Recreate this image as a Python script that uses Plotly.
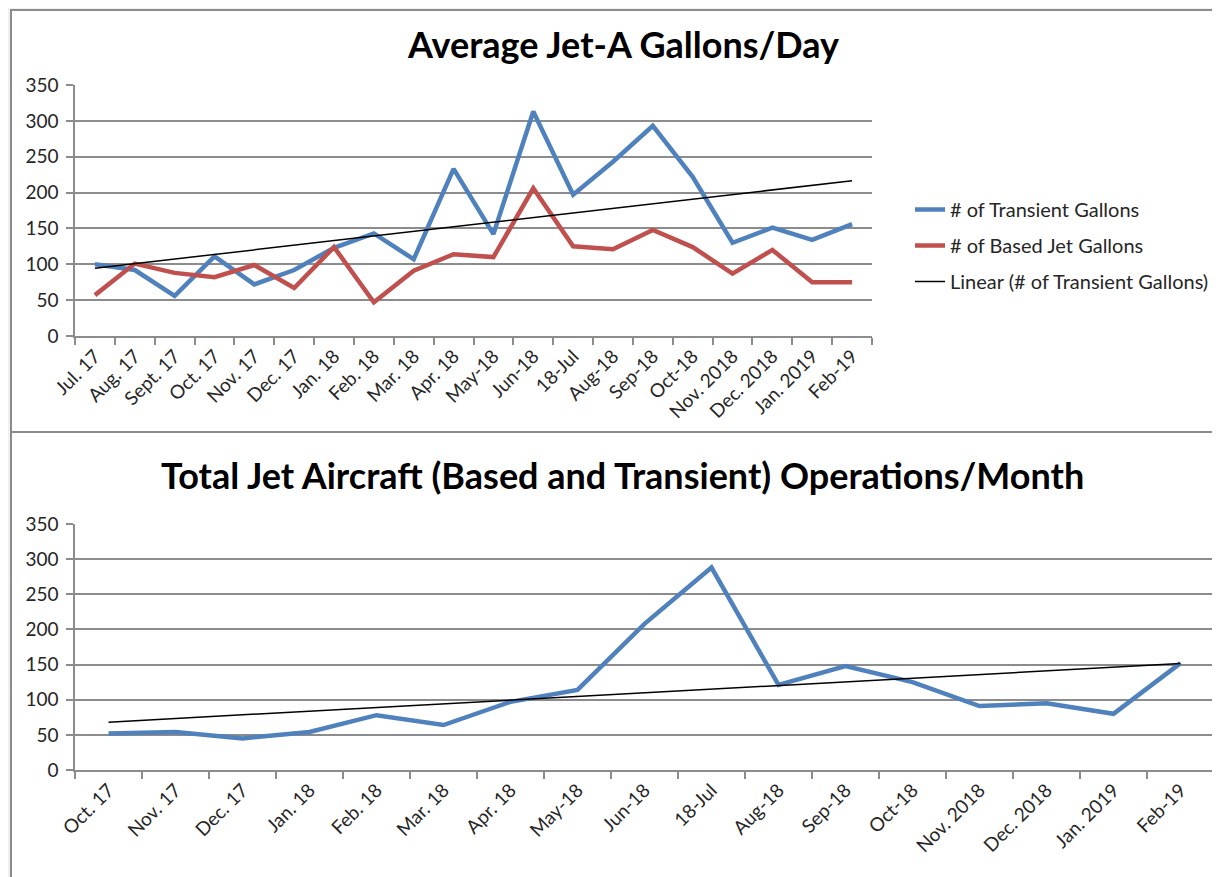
import numpy as np
import plotly.graph_objects as go

# ---- Data: top chart ----
top_months = ["Jul. 17", "Aug. 17", "Sept. 17", "Oct. 17", "Nov. 17", "Dec. 17", "Jan. 18",
              "Feb. 18", "Mar. 18", "Apr. 18", "May-18", "Jun-18", "18-Jul", "Aug-18",
              "Sep-18", "Oct-18", "Nov. 2018", "Dec. 2018", "Jan. 2019", "Feb-19"]
transient_gallons = [100, 92, 56, 111, 72, 92, 123, 143, 107, 233, 142, 313, 197, 243,
                     293, 222, 130, 151, 134, 156]
based_jet_gallons = [57, 101, 88, 82, 99, 67, 124, 47, 91, 114, 110, 206, 125, 121,
                     148, 124, 87, 120, 75, 75]

# ---- Data: bottom chart ----
bottom_months = ["Oct. 17", "Nov. 17", "Dec. 17", "Jan. 18", "Feb. 18", "Mar. 18", "Apr. 18",
                 "May-18", "Jun-18", "18-Jul", "Aug-18", "Sep-18", "Oct-18", "Nov. 2018",
                 "Dec. 2018", "Jan. 2019", "Feb-19"]
jet_operations = [52, 54, 45, 54, 78, 64, 97, 114, 208, 288, 121, 148, 125, 91, 95, 80, 152]

y_ticks = [0, 50, 100, 150, 200, 250, 300, 350]

BLUE = "#4F81BD"
RED = "#C0504D"
GRID = "#8C8C8C"
FONT = "Lato"
TXT = "#262626"

# linear trendlines (least squares, as Excel does)
xi = np.arange(len(transient_gallons))
a, b = np.polyfit(xi, transient_gallons, 1)
trend_top = a * xi + b
xj = np.arange(len(jet_operations))
c, d = np.polyfit(xj, jet_operations, 1)
trend_bot = c * xj + d

W, H = 1220, 877
OFF = 8  # page body margin that shifts the figure on screen

fig = go.Figure()
fig.add_trace(go.Scatter(x=top_months, y=transient_gallons, mode="lines",
                         name="# of Transient Gallons", line=dict(color=BLUE, width=4.5),
                         xaxis="x", yaxis="y", legendgroup="a"))
fig.add_trace(go.Scatter(x=top_months, y=based_jet_gallons, mode="lines",
                         name="# of Based Jet Gallons", line=dict(color=RED, width=4.5),
                         xaxis="x", yaxis="y", legendgroup="b"))
fig.add_trace(go.Scatter(x=top_months, y=trend_top, mode="lines",
                         name="Linear (# of Transient Gallons)", line=dict(color="black", width=1.5),
                         xaxis="x", yaxis="y", legendgroup="c"))
fig.add_trace(go.Scatter(x=bottom_months, y=jet_operations, mode="lines",
                         name="Operations", line=dict(color=BLUE, width=4.5),
                         xaxis="x2", yaxis="y2", showlegend=False))
fig.add_trace(go.Scatter(x=bottom_months, y=trend_bot, mode="lines",
                         name="Linear (Operations)", line=dict(color="black", width=1.5),
                         xaxis="x2", yaxis="y2", showlegend=False))


def px_x(p):
    return (p - OFF) / W


def px_y(p):
    return 1 - (p - OFF) / H


axis_common = dict(showline=True, linecolor=GRID, linewidth=1.5, ticks="outside",
                   ticklen=7, tickcolor=GRID, tickwidth=1.5, automargin=False,
                   tickfont=dict(family=FONT, size=19, color=TXT), zeroline=False)

fig.update_layout(
    width=W, height=H,
    margin=dict(l=0, r=0, t=0, b=0, pad=0, autoexpand=False),
    paper_bgcolor="#F0F0F0",
    plot_bgcolor="white",
    font=dict(family=FONT, color=TXT),
    xaxis=dict(domain=[px_x(75), px_x(872)], anchor="y", type="category",
               tickson="boundaries", tickangle=-45, showgrid=False,
               range=[-0.5, len(top_months) - 0.5], **axis_common),
    yaxis=dict(domain=[px_y(336), px_y(85)], anchor="x", range=[0, 350],
               tickvals=y_ticks, showgrid=True, gridcolor=GRID, gridwidth=1.5,
               ticklabelstandoff=4, **axis_common),
    xaxis2=dict(domain=[px_x(75), px_x(1214)], anchor="y2", type="category",
                tickson="boundaries", tickangle=-45, showgrid=False,
                range=[-0.5, len(bottom_months) - 0.5], **axis_common),
    yaxis2=dict(domain=[px_y(770), px_y(524)], anchor="x2", range=[0, 350],
                tickvals=y_ticks, showgrid=True, gridcolor=GRID, gridwidth=1.5,
                ticklabelstandoff=4, **axis_common),
    legend=dict(x=px_x(910), y=px_y(190), xanchor="left", yanchor="top",
                bgcolor="rgba(0,0,0,0)", font=dict(family=FONT, size=20, color=TXT),
                tracegroupgap=7, traceorder="grouped"),
    shapes=[
        dict(type="rect", xref="paper", yref="paper", x0=px_x(11), x1=1.01,
             y0=px_y(432), y1=px_y(10), fillcolor="white",
             line=dict(color=GRID, width=2), layer="below"),
        dict(type="rect", xref="paper", yref="paper", x0=px_x(11), x1=1.01,
             y0=-0.01, y1=px_y(432), fillcolor="white",
             line=dict(color=GRID, width=2), layer="below"),
    ],
    annotations=[
        dict(text="<b>Average Jet-A Gallons/Day</b>", xref="paper", yref="paper",
             x=px_x(623), y=px_y(44), xanchor="center", yanchor="middle", showarrow=False,
             font=dict(family=FONT, size=36, color="black")),
        dict(text="<b>Total Jet Aircraft (Based and Transient) Operations/Month</b>",
             xref="paper", yref="paper", x=px_x(622), y=px_y(475), xanchor="center",
             yanchor="middle", showarrow=False,
             font=dict(family=FONT, size=36, color="black")),
    ],
)

fig.write_html("out.html")
